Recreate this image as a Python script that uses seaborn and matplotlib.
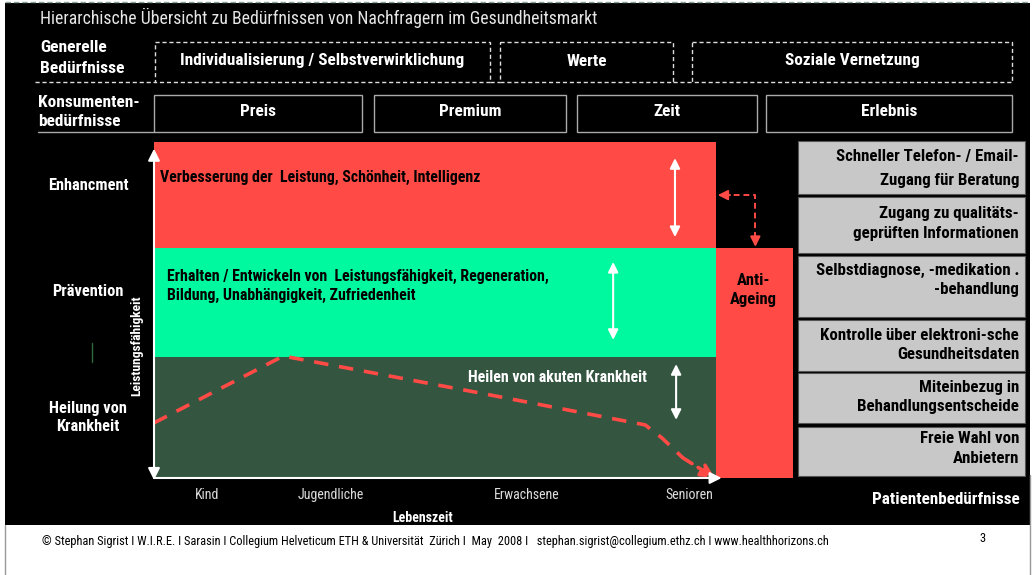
import matplotlib
matplotlib.use("Agg")
import matplotlib.pyplot as plt
import seaborn as sns
from matplotlib.patches import Rectangle

sns.set_style("white")
plt.rcParams['font.family'] = ['Roboto Condensed', 'IBM Plex Sans Condensed', 'DejaVu Sans']

# --- data -----------------------------------------------------------------
title = 'Hierarchische Übersicht zu Bedürfnissen von Nachfragern im Gesundheitsmarkt'
general_needs = ['Individualisierung / Selbstverwirklichung', 'Werte', 'Soziale Vernetzung']
consumer_needs = ['Preis', 'Premium', 'Zeit', 'Erlebnis']
band_names = ['Heilung von\nKrankheit', 'Prävention', 'Enhancment']
band_low = [0, 36, 68.5]
band_high = [36, 68.5, 100]
band_texts = ['Heilen von akuten Krankheit',
              'Erhalten / Entwickeln von  Leistungsfähigkeit, Regeneration,\nBildung, Unabhängigkeit, Zufriedenheit',
              'Verbesserung der  Leistung, Schönheit, Intelligenz']
life_stages = ['Kind', 'Jugendliche', 'Erwachsene', 'Senioren']
life_stage_pos = [9.4, 31.5, 66.4, 95.2]
curve_age = [0, 23, 58, 87.4, 90.4, 94.1]
curve_perf = [16.4, 36.3, 25.3, 15.8, 11.9, 6.0]
anti_ageing = 'Anti-\nAgeing'
anti_ageing_top = 68.5
patient_needs = ['Schneller Telefon- / Email-\nZugang für Beratung',
                 'Zugang zu qualitäts-\ngeprüften Informationen',
                 'Selbstdiagnose, -medikation .\n-behandlung',
                 'Kontrolle über elektroni-sche\nGesundheitsdaten',
                 'Miteinbezug in\nBehandlungsentscheide',
                 'Freie Wahl von\nAnbietern']
footer = ('© Stephan Sigrist I W.I.R.E. I Sarasin I Collegium Helveticum ETH & Universität  Zürich I  '
          'May  2008 I   stephan.sigrist@collegium.ethz.ch I www.healthhorizons.ch')
page_no = '3'

# --- colours --------------------------------------------------------------
RED = '#ff4a45'
GREEN = '#00f89e'
DARK = '#345641'
GREY = '#c8c8c8'
band_colors = [DARK, GREEN, RED]
band_text_colors = ['white', 'black', 'black']

fig = plt.figure(figsize=(10.34, 5.75), dpi=100)
fig.patch.set_facecolor('white')

# overlay axes in pixel coordinates for the frame and labels
ax = fig.add_axes([0, 0, 1, 1])
ax.set_xlim(0, 1034)
ax.set_ylim(575, 0)
ax.axis('off')

ax.add_patch(Rectangle((5, 3), 1025, 522, facecolor='black', edgecolor='none'))
ax.plot([5, 1030], [2, 2], color='#8aa39a', lw=1, ls=(0, (4, 2)))
ax.plot([5, 5], [525, 575], color='#999999', lw=1)
ax.plot([1030, 1030], [475, 575], color='#999999', lw=1)

ax.text(40, 18, title, color='#e6e6e6', fontsize=12.8, va='center', ha='left')

# header rows
ax.text(40, 58, 'Generelle\nBedürfnisse', color='white', fontsize=12.6, fontweight='bold',
        va='center', ha='left', linespacing=1.45)
gen_boxes = [(155, 490), (500, 673), (692, 1012)]
for (x0, x1), lab in zip(gen_boxes, general_needs):
    ax.add_patch(Rectangle((x0, 42), x1 - x0, 40, facecolor='none', edgecolor='#dddddd',
                           lw=1, ls=(0, (3, 2))))
    ax.text((x0 + x1) / 2, 61, lab, color='white', fontsize=12.4, fontweight='bold',
            ha='center', va='center')
ax.plot([35, 155], [82, 82], color='#dddddd', lw=1, ls=(0, (3, 2)))
ax.plot([490, 500], [82, 82], color='#dddddd', lw=1, ls=(0, (3, 2)))
ax.plot([673, 692], [82, 82], color='#dddddd', lw=1, ls=(0, (3, 2)))

ax.text(38, 112, 'Konsumenten-\nbedürfnisse', color='white', fontsize=12.4, fontweight='bold',
        va='center', ha='left', linespacing=1.4)
cons_boxes = [(154, 362), (374, 566), (577, 757), (766, 1012)]
for (x0, x1), lab in zip(cons_boxes, consumer_needs):
    ax.add_patch(Rectangle((x0, 95), x1 - x0, 37, facecolor='none', edgecolor='#aaaaaa', lw=1))
    ax.text((x0 + x1) / 2, 112, lab, color='white', fontsize=12.4, fontweight='bold',
            ha='center', va='center')
ax.plot([38, 154], [132, 132], color='#aaaaaa', lw=1)

# left band labels
for name, y in zip(band_names, [417.5, 291, 186]):
    ax.text(88, y, name, color='white', fontsize=11.8, fontweight='bold',
            ha='center', va='center', linespacing=1.33)
ax.plot([92, 92], [343, 362], color='#2f6b3c', lw=1)
ax.text(137, 346, 'Leistungsfähigkeit', color='white', fontsize=9.7, fontweight='bold',
        rotation=90, ha='center', va='center')

# patient needs
box_rows = [(141, 194), (197, 253), (256, 317), (320, 371), (373, 423), (427, 476)]
text_rows = [168.5, 223.5, 280, 345, 397, 448.5]
line_gaps = [1.7, 1.36, 1.38, 1.38, 1.38, 1.38]
for (y0, y1), ty, gap, lab in zip(box_rows, text_rows, line_gaps, patient_needs):
    ax.add_patch(Rectangle((798, y0), 227, y1 - y0, facecolor=GREY, edgecolor='#555555', lw=0.8))
    ax.text(1019, ty, lab, color='black', fontsize=12.2, fontweight='bold',
            ha='right', va='center', linespacing=gap)
ax.text(1020, 499, 'Patientenbedürfnisse', color='white', fontsize=12.3, fontweight='bold',
        ha='right', va='center')

ax.text(423, 518, 'Lebenszeit', color='white', fontsize=10, fontweight='bold',
        ha='center', va='center')

ax.text(42, 541, footer, color='black', fontsize=8.9, ha='left', va='center')
ax.text(983, 539, page_no, color='black', fontsize=9, ha='center', va='center')

# chart axes: life time (x) vs performance (y)
cax = fig.add_axes([154 / 1034, (575 - 478) / 575, (793 - 154) / 1034, (478 - 142) / 575])
cax.set_xlim(0, 113.7)
cax.set_ylim(0, 100)
cax.axis('off')
cax.patch.set_alpha(0)

for lo, hi, c in zip(band_low, band_high, band_colors):
    cax.fill_between([0, 100], lo, hi, color=c, lw=0)
cax.fill_between([100, 113.7], 0, anti_ageing_top, color=RED, lw=0)

cax.text(1.1, 89.5, band_texts[2], color=band_text_colors[2], fontsize=11.4,
         fontweight='bold', ha='left', va='center')
cax.text(2.3, 57.1, band_texts[1], color=band_text_colors[1], fontsize=11.4,
         fontweight='bold', ha='left', va='center', linespacing=1.38)
cax.text(55.9, 30.0, band_texts[0], color=band_text_colors[0], fontsize=11.4,
         fontweight='bold', ha='left', va='center')
cax.text(106.7, 56, anti_ageing, color='black', fontsize=12, fontweight='bold',
         ha='center', va='center', linespacing=1.38)

# performance curve
sns.lineplot(x=curve_age, y=curve_perf, ax=cax, color=RED, lw=2.6, sort=False,
             linestyle=(0, (4, 3)), legend=False)
cax.annotate('', xy=(99.8, 0), xytext=(curve_age[-1], curve_perf[-1]),
             arrowprops=dict(arrowstyle='-|>,head_length=0.8,head_width=0.4', color=RED, lw=2.6,
                             linestyle=(0, (3, 2)), shrinkA=0, shrinkB=0))

# double arrows inside bands
for x, y0, y1 in [(92.7, 71.7, 95.2), (81.7, 41.1, 64.3), (92.9, 17.3, 33.9)]:
    cax.annotate('', xy=(x, y1), xytext=(x, y0),
                 arrowprops=dict(arrowstyle='<|-|>,head_length=0.6,head_width=0.3',
                                 color='white', lw=1.5, shrinkA=0, shrinkB=0))

# dashed elbow arrow between Anti-Ageing and Enhancement
cax.plot([101.5, 107, 107], [84.2, 84.2, 71], color=RED, lw=1.4, ls=(0, (3, 2)))
cax.annotate('', xy=(100.3, 84.2), xytext=(102.5, 84.2),
             arrowprops=dict(arrowstyle='-|>,head_length=0.6,head_width=0.3', color=RED,
                             lw=1.4, shrinkA=0, shrinkB=0))
cax.annotate('', xy=(107, anti_ageing_top + 0.3), xytext=(107, 72),
             arrowprops=dict(arrowstyle='-|>,head_length=0.6,head_width=0.3', color=RED,
                             lw=1.4, shrinkA=0, shrinkB=0))

# axis arrows
cax.annotate('', xy=(0, 98), xytext=(0, -0.6),
             arrowprops=dict(arrowstyle='<|-|>,head_length=0.7,head_width=0.35',
                             color='white', lw=1.5, shrinkA=0, shrinkB=0), annotation_clip=False)
cax.annotate('', xy=(101, 0), xytext=(0, 0),
             arrowprops=dict(arrowstyle='-|>,head_length=0.7,head_width=0.35',
                             color='white', lw=1.5, shrinkA=0, shrinkB=0), annotation_clip=False)

for pos, lab in zip(life_stage_pos, life_stages):
    cax.text(pos, -5.1, lab, color='#dddddd', fontsize=10, ha='center', va='center',
             clip_on=False)

fig.savefig('out.png', dpi=100)
